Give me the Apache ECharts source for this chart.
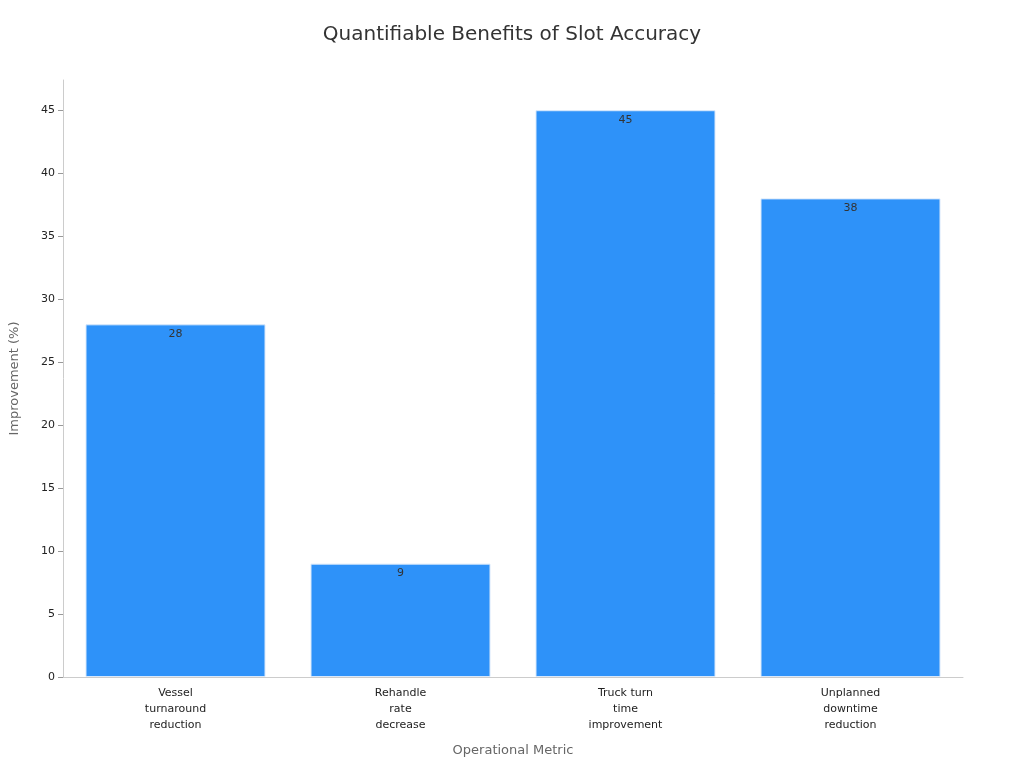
<!DOCTYPE html>
<html><head><meta charset="utf-8">
<script src="https://cdn.jsdelivr.net/npm/echarts@6/dist/echarts.min.js"></script>
<style>html,body{margin:0;padding:0;background:#fff}#c{width:1024px;height:768px}</style>
</head><body><div id="c"></div>
<script>
const categories = ["Vessel\nturnaround\nreduction", "Rehandle\nrate\ndecrease", "Truck turn\ntime\nimprovement", "Unplanned\ndowntime\nreduction"];
const values = [28, 9, 45, 38];
const chart = echarts.init(document.getElementById('c'));
chart.setOption({
  textStyle: {fontFamily: 'DejaVu Sans'},
  title: {text: 'Quantifiable Benefits of Slot Accuracy', left: 'center', top: 20,
    textStyle: {fontSize: 20, fontWeight: 'normal', color: '#333', fontFamily: 'DejaVu Sans'}},
  grid: {left: 60, right: 61, top: 80, bottom: 91, containLabel: false},
  xAxis: {type: 'category', data: categories, name: 'Operational Metric', nameLocation: 'middle', nameGap: 67,
    nameTextStyle: {fontSize: 13, color: '#666'},
    axisLine: {lineStyle: {color: '#ccc'}}, axisTick: {alignWithLabel: true, lineStyle: {color: '#999'}},
    axisLabel: {fontSize: 11, color: '#222', lineHeight: 16, margin: 8}},
  yAxis: {type: 'value', min: 0, max: 47.4, interval: 5, name: 'Improvement (%)', nameLocation: 'middle', nameGap: 42,
    nameTextStyle: {fontSize: 13, color: '#666'},
    axisLine: {show: true, lineStyle: {color: '#ccc'}}, axisTick: {show: true, lineStyle: {color: '#999'}},
    axisLabel: {fontSize: 11, color: '#222', showMaxLabel: false}, splitLine: {show: false}},
  series: [{type: 'bar', data: values, barWidth: '80%',
    itemStyle: {color: '#2e92f9', borderColor: '#d8e8fb', borderWidth: 1},
    label: {show: true, position: 'insideTop', color: '#333', fontSize: 11, distance: 4}}]
});
</script></body></html>
